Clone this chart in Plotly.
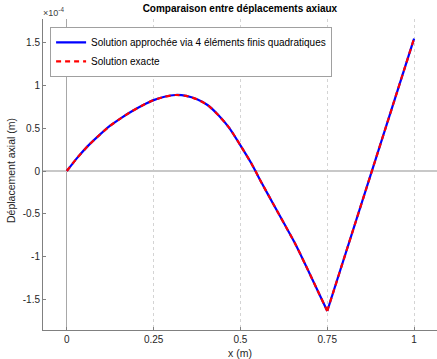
import plotly.graph_objects as go

x_m = [0, 0.03125, 0.0625, 0.09375, 0.125, 0.15625, 0.1875, 0.21875, 0.25,
       0.28125, 0.3125, 0.34375, 0.375, 0.40625, 0.4375, 0.46875, 0.5,
       0.53125, 0.5625, 0.59375, 0.625, 0.65625, 0.6875, 0.71875, 0.75,
       0.8125, 0.875, 0.9375, 1.0]
u_approx_e4 = [0, 0.16, 0.30, 0.42, 0.53, 0.62, 0.70, 0.77, 0.83,
               0.87, 0.89, 0.88, 0.84, 0.77, 0.65, 0.50, 0.30,
               0.09, -0.15, -0.38, -0.61, -0.84, -1.10, -1.37, -1.64,
               -0.84, -0.04, 0.76, 1.55]
u_exact_e4 = [0, 0.16, 0.30, 0.42, 0.53, 0.62, 0.70, 0.77, 0.83,
              0.87, 0.89, 0.88, 0.84, 0.77, 0.65, 0.50, 0.30,
              0.09, -0.15, -0.38, -0.61, -0.84, -1.10, -1.37, -1.64,
              -0.84, -0.04, 0.76, 1.55]
x_ticks = [0, 0.25, 0.5, 0.75, 1]
x_tick_labels = ["0", "0.25", "0.5", "0.75", "1"]
y_ticks_e4 = [-1.5, -1, -0.5, 0, 0.5, 1, 1.5]
y_tick_labels = ["-1.5", "-1", "-0.5", "0", "0.5", "1", "1.5"]

scale = 1e-4
FONT = "Liberation Sans, Arial, sans-serif"
KINK = x_m.index(0.75)

fig = go.Figure()
series = [
    ("Solution approchée via 4 éléments finis quadratiques", u_approx_e4,
     dict(color="rgb(0,0,255)", width=2.2), "approx"),
    ("Solution exacte", u_exact_e4,
     dict(color="rgb(255,0,0)", width=2.2, dash="5px,4px"), "exact"),
]
for name, vals, ln, grp in series:
    ys = [v * scale for v in vals]
    fig.add_trace(go.Scatter(
        x=x_m[:KINK + 1], y=ys[:KINK + 1], mode="lines", name=name,
        legendgroup=grp,
        line=dict(**ln, shape="spline", smoothing=0.6)))
    fig.add_trace(go.Scatter(
        x=x_m[KINK:], y=ys[KINK:], mode="lines", name=name,
        legendgroup=grp, showlegend=False,
        line=dict(**ln, shape="linear")))

fig.update_layout(
    width=437, height=359,
    margin=dict(l=43, r=0, t=19, b=29),
    plot_bgcolor="white", paper_bgcolor="white",
    font=dict(family=FONT, size=10, color="#262626"),
    title=dict(text="<b>Comparaison entre déplacements axiaux</b>",
               x=0.549, xanchor="center", y=0.985, yanchor="top",
               font=dict(size=10, color="#000000")),
    legend=dict(x=0.018, y=0.975, xanchor="left", yanchor="top",
                bgcolor="white", bordercolor="#a0a0a0", borderwidth=1,
                font=dict(size=10, color="#000000"),
                tracegroupgap=0, itemwidth=30),
    showlegend=True,
)
fig.update_xaxes(
    range=[-0.0685, 1.066], tickvals=x_ticks, ticktext=x_tick_labels,
    automargin=False,
    showgrid=True, gridcolor="#d4d4d4", griddash="dot", gridwidth=1,
    zeroline=True, zerolinecolor="#a8a8a8", zerolinewidth=1,
    showline=True, linecolor="#808080", linewidth=1,
    ticks="inside", ticklen=3, tickcolor="#808080",
)
fig.update_yaxes(
    range=[-1.862e-4, 1.78e-4], tickvals=[v * scale for v in y_ticks_e4],
    ticktext=y_tick_labels, showgrid=False, automargin=False,
    zeroline=True, zerolinecolor="#c8c8c8", zerolinewidth=2,
    showline=True, linecolor="#808080", linewidth=1,
    ticks="inside", ticklen=3, tickcolor="#808080",
)
fig.add_annotation(text="x (m)", xref="x", yref="paper", x=0.5, y=0,
                   xanchor="center", yanchor="top", yshift=-15,
                   showarrow=False, font=dict(size=10.5, color="#262626"))
fig.add_annotation(text="Déplacement axial (m)", xref="paper", yref="y",
                   x=0, y=0, xanchor="right", yanchor="middle", xshift=-24,
                   textangle=-90, showarrow=False,
                   font=dict(size=10.5, color="#262626"))
fig.add_annotation(text="×10<sup>-4</sup>", xref="paper", yref="paper",
                   x=0.0, y=1.0, xanchor="left", yanchor="bottom",
                   showarrow=False, font=dict(size=9, color="#404040"),
                   xshift=-2, yshift=-1)
fig.write_html(
    "out.html",
    config={"displayModeBar": False},
    post_script="document.body.style.margin='0';"
                "document.body.style.overflow='hidden';")
